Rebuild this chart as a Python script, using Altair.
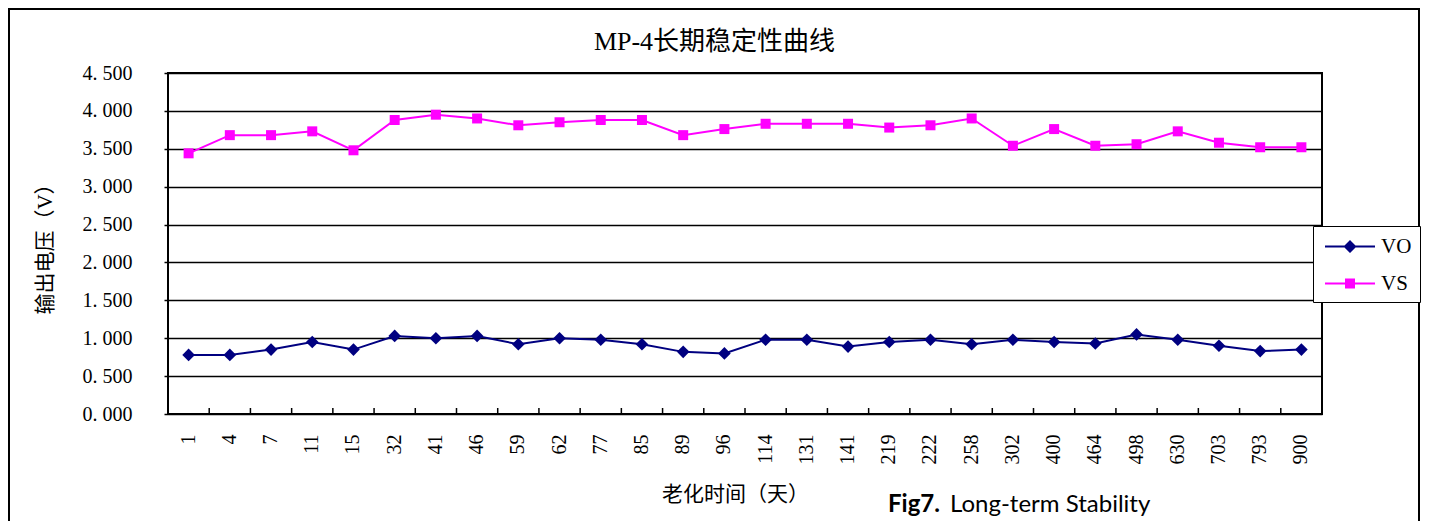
import altair as alt
import pandas as pd

days = ["1", "4", "7", "11", "15", "32", "41", "46", "59", "62", "77", "85", "89", "96",
        "114", "131", "141", "219", "222", "258", "302", "400", "464", "498", "630", "703", "793", "900"]
vo = [0.78, 0.78, 0.85, 0.95, 0.85, 1.03, 1.00, 1.03, 0.92, 1.00, 0.98, 0.92, 0.82, 0.80,
      0.98, 0.98, 0.89, 0.95, 0.98, 0.92, 0.98, 0.95, 0.93, 1.05, 0.98, 0.90, 0.83, 0.85]
vs = [3.44, 3.68, 3.68, 3.73, 3.48, 3.88, 3.95, 3.90, 3.81, 3.85, 3.88, 3.88, 3.68, 3.76,
      3.83, 3.83, 3.83, 3.78, 3.81, 3.90, 3.54, 3.76, 3.54, 3.56, 3.73, 3.58, 3.52, 3.52]
series = ["VO", "VS"]
colors = ["#000080", "#FF00FF"]
y_ticks = [0, 0.5, 1, 1.5, 2, 2.5, 3, 3.5, 4, 4.5]

df = pd.DataFrame({
    "day": days * 2,
    "series": ["VO"] * len(days) + ["VS"] * len(days),
    "value": vo + vs,
})

SERIF = "Liberation Serif, Noto Sans CJK SC"
CJK = "Noto Sans CJK SC"

x_enc = alt.X("day:N", sort=days, scale=alt.Scale(paddingInner=0, paddingOuter=0),
              axis=alt.Axis(title="老化时间（天）", labelAngle=-90, labelFont="Liberation Serif",
                            labelFontSize=20, labelColor="black", labelPadding=20,
                            ticks=False, tickSize=0, domain=False, grid=False,
                            titleFont=CJK, titleFontSize=21, titleFontWeight="normal",
                            titleColor="black", titleX=567, titleY=80, titleAlign="center",
                            titleBaseline="middle"))
y_enc = alt.Y("value:Q", scale=alt.Scale(domain=[0, 4.5], nice=False),
              axis=alt.Axis(title="输出电压（V）", values=y_ticks,
                            labelExpr="replace(format(datum.value, '.3f'), '.', '. ')",
                            labelFont="Liberation Serif", labelFontSize=20, labelColor="black",
                            labelPadding=32, tickSize=4, tickColor="black", tickWidth=1.5,
                            domain=False, grid=True, gridColor="black", gridWidth=1.5,
                            titleFont=SERIF, titleFontSize=21, titleFontWeight="normal",
                            titleColor="black", titleX=-123, titleY=170.5,
                            titleAlign="center", titleBaseline="middle", titleAngle=-90))

base = alt.Chart(df).encode(x=x_enc, y=y_enc)
vo_base = base.transform_filter("datum.series == 'VO'")
vs_base = base.transform_filter("datum.series == 'VS'")

line_vo = vo_base.mark_line(strokeWidth=2, color=colors[0])
line_vs = vs_base.mark_line(strokeWidth=2, color=colors[1])
pts_vo = vo_base.mark_point(filled=True, opacity=1, shape="diamond", size=160, color=colors[0])
pts_vs = vs_base.mark_point(filled=True, opacity=1, shape="square", size=100, color=colors[1])

# inward category-boundary ticks on the x axis
ticks = alt.Chart(pd.DataFrame({"day": days})).mark_rule(color="black", strokeWidth=1.5).encode(
    x=alt.X("day:N", sort=days, bandPosition=0),
    y=alt.value(341), y2=alt.value(335),
)

# legend symbols: filled line segment + marker
vo_path = "M-0.68,-0.08H3.32V0.08H-0.68ZM0.8,0L1.32,-0.52L1.84,0L1.32,0.52Z"
vs_path = "M-0.68,-0.08H3.32V0.08H-0.68ZM0.92,-0.4H1.72V0.4H0.92Z"
leg = alt.Legend(title=None, orient="none", legendX=1145, legendY=153,
                 fillColor="white", strokeColor="black", padding=8,
                 symbolSize=625, symbolStrokeWidth=0, symbolOpacity=1,
                 labelOffset=35, rowPadding=14,
                 labelFont="Liberation Serif", labelFontSize=21, labelColor="black")
legend_layer = alt.Chart(pd.DataFrame({"series": series})).mark_point(
    filled=True, opacity=0, size=625
).encode(
    color=alt.Color("series:N", scale=alt.Scale(domain=series, range=colors), legend=leg),
    shape=alt.Shape("series:N", scale=alt.Scale(domain=series, range=[vo_path, vs_path]), legend=leg),
)

one = pd.DataFrame({"a": [0]})
border = alt.Chart(one).mark_rect(fillOpacity=0, stroke="black", strokeWidth=2).encode(
    x=alt.value(-159), x2=alt.value(1251), y=alt.value(-64), y2=alt.value(470)
)

title = alt.Chart(one).mark_text(
    text="MP-4长期稳定性曲线", font=SERIF, fontSize=26, align="center", baseline="middle", color="black"
).encode(x=alt.value(546.5), y=alt.value(-31))

fig_bold = alt.Chart(one).mark_text(
    text="Fig7.", font="Lato", fontSize=24, fontWeight="bold", align="left", baseline="alphabetic", color="black"
).encode(x=alt.value(720), y=alt.value(439))
fig_text = alt.Chart(one).mark_text(
    text="Long-term Stability", font="Lato", fontSize=24, align="left", baseline="alphabetic", color="black"
).encode(x=alt.value(782), y=alt.value(439))

chart = alt.layer(line_vo, line_vs, pts_vo, pts_vs, ticks, legend_layer, border, title,
                  fig_bold, fig_text).properties(
    width=1154, height=341,
    autosize=alt.AutoSizeParams(type="none"),
    padding={"left": 160, "top": 65, "right": 99, "bottom": 107},
).configure_view(fill="#C0C0C0", stroke="black", strokeWidth=2)

chart.save("out.html", embed_options={"renderer": "svg", "actions": False})
